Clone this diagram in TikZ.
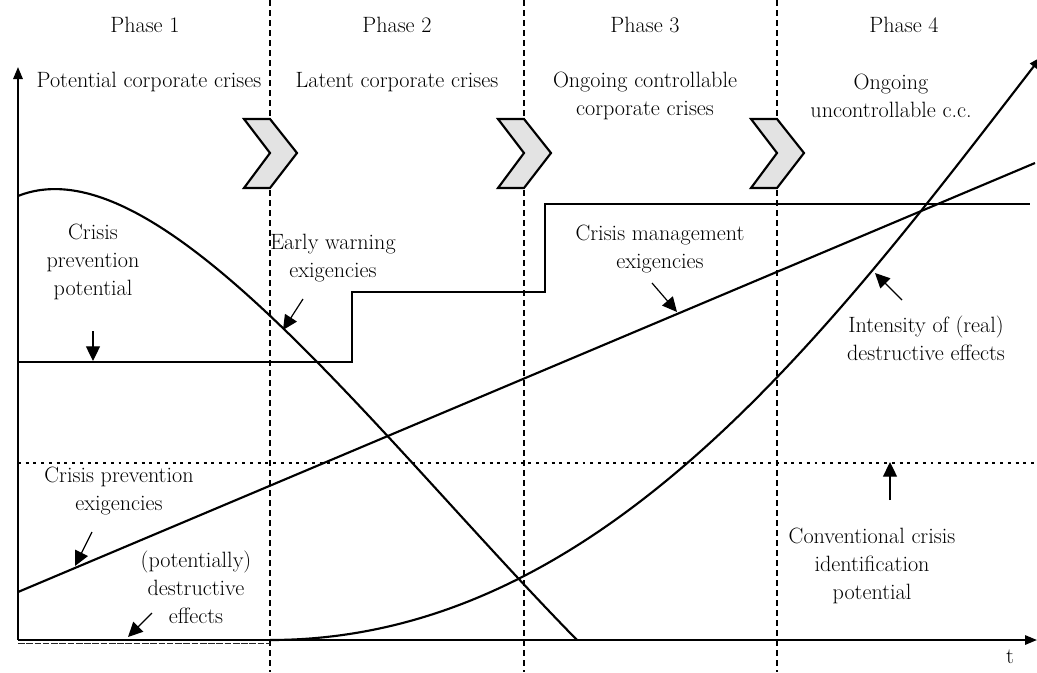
\documentclass[tikz,border=0pt]{standalone}
\usetikzlibrary{arrows.meta}
\begin{document}
\begin{tikzpicture}[x=0.75pt,y=-0.75pt,
  font=\fontsize{16.6}{21}\selectfont,
  every node/.style={align=center,inner sep=0pt},
  curve/.style={line width=1.6pt,line join=miter},
  phaseline/.style={line width=1.1pt,dash pattern=on 4.5pt off 3pt},
  chev/.style={fill=gray!22,draw=black,line width=1.6pt,line join=miter},
  axis/.style={line width=1.5pt,-{Triangle[length=9pt,width=7pt]}},
  lab/.style={line width=0.9pt,-{Triangle[length=11pt,width=10.5pt]}},
  dotline/.style={line width=1.8pt,dash pattern=on 2.2pt off 3.6pt}
]
\useasboundingbox (0,0) rectangle (1037,672);

% phase separators
\foreach \n/\x in {a/270,b/524,c/777}{
  \coordinate (\n top) at (\x,0);
  \coordinate (\n bot) at (\x,672);
  \draw[phaseline] (\n top) -- (\n bot);
}

% chevrons
\foreach \x in {270,524,777}{
  \draw[chev] (\x-26,119) -- (\x,119) -- (\x+27,153) -- (\x,188) -- (\x-26,188) -- (\x,153) -- cycle;
}

% phase titles
\node (p1) at (145,25) {Phase 1};
\node (p2) at (397,25) {Phase 2};
\node (p3) at (645,25) {Phase 3};
\node (p4) at (904,25) {Phase 4};

\node (s1) at (149,82) {Potential corporate crises};
\node (s2) at (397,82) {Latent corporate crises};
\node (s3) at (645,95.5) {Ongoing controllable\\corporate crises};
\node (s4) at (891,95.5) {Ongoing\\uncontrollable c.c.};

% axes
\coordinate (O) at (18,640);
\coordinate (Ytop) at (18,67);
\coordinate (Xend) at (1037,640);

% destructive effects band (phase 1)
\coordinate (b1) at (18,643.5);
\coordinate (b2) at (270,643.5);
\draw[line width=1.4pt,black!85,dash pattern=on 5pt off 1.2pt] (b1) -- (b2);

% crisis prevention potential
\draw[curve] (18,196) .. controls (158,140) and (377,436) .. (577,640);

% early warning exigencies (steps)
\draw[curve] (18,362) -| (352,292) -| (545,204) -- (1030,204);

% crisis management / prevention exigencies
\draw[curve] (18,592) -- (1035,163);

% conventional crisis identification potential
\draw[dotline] (18,463) -- (1037,463);

% intensity of destructive effects
\draw[curve,-{Triangle[length=9pt,width=7pt]}] (270,640) .. controls (600,640) and (827,334) .. (1041,57);

\draw[axis] (O) -- (Ytop);
\draw[axis] (O) -- (Xend);
\node (t) at (1010,657) {t};

% labels
\node (cpp) at (93,262) {Crisis\\prevention\\potential};
\node (ewe) at (333,258) {Early warning\\exigencies};
\node (cme) at (660,249) {Crisis management\\exigencies};
\node (ide) at (926,338) {Intensity of (real)\\destructive effects};
\node (cpe) at (119,491) {Crisis prevention\\exigencies};
\node (pde) at (196,587) {(potentially)\\destructive\\effects};
\node (cci) at (872,566) {Conventional crisis\\identification\\potential};

% label arrows
\coordinate (a1s) at (93,331);  \coordinate (a1e) at (93,361);
\coordinate (a2s) at (303,299); \coordinate (a2e) at (283,330);
\coordinate (a3s) at (652,283); \coordinate (a3e) at (677,312);
\coordinate (a4s) at (902,300); \coordinate (a4e) at (875,273);
\coordinate (a5s) at (92,532);  \coordinate (a5e) at (75,566);
\coordinate (a6s) at (152,613); \coordinate (a6e) at (128,637);
\coordinate (a7s) at (890,500); \coordinate (a7e) at (890,462);
\foreach \i in {1,...,7}{ \draw[lab] (a\i s) -- (a\i e); }
\end{tikzpicture}
\end{document}
